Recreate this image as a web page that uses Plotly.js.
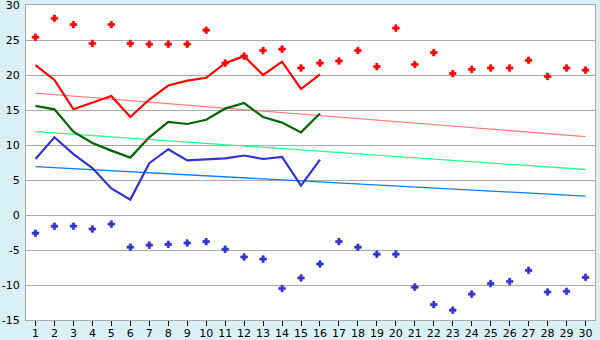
<!DOCTYPE html>
<html><head><meta charset="utf-8">
<script src="https://cdn.plot.ly/plotly-3.0.1.min.js"></script>
<style>html,body{margin:0;padding:0;background:#daf0f6;}</style>
</head><body>
<div id="chart" style="width:600px;height:340px;"></div>
<script>
const days = Array.from({length:30},(_,i)=>i+1);
const days16 = days.slice(0,16);
const yTicks = [-15,-10,-5,0,5,10,15,20,25,30];
const recordMax = [25.4,28.1,27.2,24.5,27.2,24.5,24.4,24.4,24.4,26.4,21.7,22.7,23.5,23.7,21.0,21.7,22.0,23.5,21.2,26.7,21.5,23.2,20.2,20.8,21.0,21.0,22.1,19.8,21.0,20.7];
const recordMin = [-2.6,-1.6,-1.6,-2.0,-1.3,-4.6,-4.3,-4.2,-4.0,-3.8,-4.9,-6.0,-6.3,-10.5,-9.0,-7.0,-3.8,-4.6,-5.6,-5.6,-10.3,-12.8,-13.6,-11.3,-9.8,-9.5,-7.9,-11.0,-10.9,-8.9];
const dailyMax = [21.4,19.3,15.1,16.0,17.0,14.0,16.5,18.5,19.2,19.6,21.7,22.7,20.0,21.9,18.0,20.1];
const dailyMean = [15.6,15.1,11.9,10.3,9.2,8.2,11.1,13.3,13.0,13.6,15.2,16.0,14.0,13.2,11.8,14.5];
const dailyMin = [8.0,11.1,8.7,6.7,3.8,2.2,7.4,9.4,7.8,8.0,8.1,8.5,8.0,8.3,4.2,7.9];
const normalX = [1,30];
const normalMax = [17.4,11.2];
const normalMean = [11.9,6.5];
const normalMin = [6.9,2.7];

const traces = [
  {x:normalX,y:normalMax,mode:'lines',line:{color:'#ff8080',width:1.3}},
  {x:normalX,y:normalMean,mode:'lines',line:{color:'#22ff88',width:1.3}},
  {x:normalX,y:normalMin,mode:'lines',line:{color:'#0a7cff',width:1.3}},
  {x:days16,y:dailyMax,mode:'lines',line:{color:'#ff0000',width:2.2}},
  {x:days16,y:dailyMean,mode:'lines',line:{color:'#006400',width:2.2}},
  {x:days16,y:dailyMin,mode:'lines',line:{color:'#3333cc',width:2.2}},
  {x:days,y:recordMax,mode:'markers',marker:{symbol:'cross',size:5.5,color:'#ff0000',line:{color:'#ff0000',width:0.7}}},
  {x:days,y:recordMin,mode:'markers',marker:{symbol:'cross',size:5.5,color:'#3333cc',line:{color:'#3333cc',width:0.7}}}
];
const layout = {
  width:600,height:340,showlegend:false,
  paper_bgcolor:'#daf0f6',plot_bgcolor:'#ffffff',
  margin:{l:26,r:5,t:5,b:20},
  font:{family:'DejaVu Sans, Verdana, sans-serif',size:11,color:'#000'},
  xaxis:{range:[0.5,30.5],tickmode:'array',tickvals:days,ticktext:days.map(String),showgrid:false,zeroline:false,
    showline:true,linecolor:'#aaaaaa',linewidth:1,mirror:true,
    ticks:'outside',ticklen:5,tickcolor:'#000',tickwidth:1,ticklabelstandoff:-2,fixedrange:true},
  yaxis:{range:[-15,30],tickmode:'array',tickvals:yTicks,ticktext:yTicks.map(String),
    showgrid:true,gridcolor:'#aaaaaa',gridwidth:1,
    zeroline:false,showline:true,linecolor:'#aaaaaa',linewidth:1,mirror:true,ticks:'',ticklabelstandoff:3,
    ticklabeloverflow:'allow',fixedrange:true}
};
Plotly.newPlot('chart',traces,layout,{staticPlot:true,displayModeBar:false});
</script>
</body></html>
